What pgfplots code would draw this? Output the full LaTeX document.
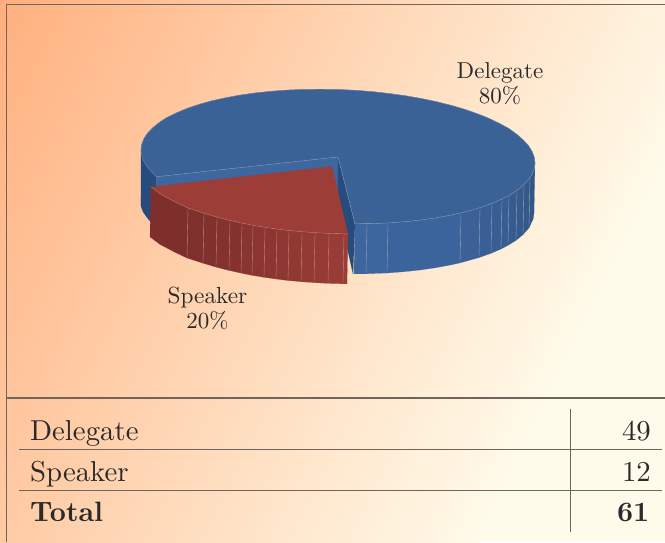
\documentclass[border=0pt]{standalone}
\usepackage{fontspec}
\setmainfont{lmroman10-regular.otf}[BoldFont=lmroman10-bold.otf]
\usepackage{pgfplots}
\pgfplotsset{compat=1.18}
\definecolor{bgA}{HTML}{FFB07E}
\definecolor{bgB}{HTML}{FFFBEA}
\definecolor{frameC}{HTML}{6E665C}
\definecolor{txt}{HTML}{2A2A2A}
\definecolor{blueTop}{HTML}{3A6296}
\definecolor{blueIn}{HTML}{3F679F}
\definecolor{blueDark}{HTML}{274B7D}
\definecolor{blueRim}{HTML}{8A9DBB}
\definecolor{blueA}{HTML}{345687}
\definecolor{blueB}{HTML}{3D659E}
\definecolor{redTop}{HTML}{9C3D37}
\definecolor{redA}{HTML}{7E2F2B}
\definecolor{redB}{HTML}{9B3C37}
\definecolor{redRim}{HTML}{B9807A}
\newcommand{\seg}[2]{\addplot[fill={#1},draw={#1},line width=0.1pt] coordinates {#2} --cycle;}
\newcommand{\rimb}[1]{\addplot[blueRim,line width=0.35pt] coordinates {#1};}
\newcommand{\rimr}[1]{\addplot[redRim,line width=0.35pt] coordinates {#1};}
\newcommand{\fr}[1]{\addplot[frameC,line width=1.2pt] coordinates {#1};}
\begin{document}
\begin{tikzpicture}
\useasboundingbox (0,0) rectangle (665pt,542pt);
\begin{scope}
\clip (0,0) rectangle (665pt,542pt);
\fill[bgB] (0,0) rectangle (665pt,542pt);
\begin{scope}[transform canvas={shift={(0pt,542pt)},rotate=-26.565}]
\shade[left color=bgA,right color=bgB] (0pt,-500pt) rectangle (671pt,320pt);
\end{scope}
\end{scope}
\begin{axis}[
  at={(0,0)},anchor=south west,scale only axis,width=665pt,height=542pt,
  xmin=0,xmax=665,ymin=0,ymax=542,y dir=reverse,hide axis,clip=false]
% frame and table rules
\fr{(6.5,542)(6.5,4.5)(665,4.5)}
\fr{(6.5,398)(665,398)}
\fr{(19,449.5)(661.5,449.5)}
\fr{(19,490.7)(661.5,490.7)}
\fr{(570.5,408.5)(570.5,531.5)}
% left outer wall
\seg{blueDark}{(141,150)(141,195)(140.8,205.8)(143,211.7)(147,217.5)(152,223.3)(155.7,226.7)(156.7,176.7)(153,173.3)(147.7,167.5)(144,161.7)(141.8,155.8)}
% right outer wall facets
\seg{blueB}{(355,223.8)(367,223.8)(366,273.8)(354,273.8)}
\seg{blueB}{(367,223.8)(388,223)(387,273)(366,273.8)}
\seg{blueB!92!blueA}{(388,223)(405,221.7)(421.3,220)(436.5,217.75)(451,215.1)(461,212.9)(460,262.9)(450,265.1)(435.5,267.75)(420.3,270)(404,271.7)(387,273)}
\seg{blueB!75!blueA}{(461,212.9)(480,207.6)(479,257.6)(460,262.9)}
\seg{blueB!62!blueA}{(480,207.6)(492,203.3)(491,253.3)(479,257.6)}
\seg{blueB!52!blueA}{(492,203.3)(502,199)(501,249)(491,253.3)}
\seg{blueB!44!blueA}{(502,199)(509,195.3)(508,245.3)(501,249)}
\seg{blueB!36!blueA}{(509,195.3)(517,190.4)(516,240.4)(508,245.3)}
\seg{blueB!26!blueA}{(517,190.4)(524,184.6)(523,234.6)(516,240.4)}
\seg{blueB!14!blueA}{(524,184.6)(530,177.8)(529,227.8)(523,234.6)}
\seg{blueA}{(530,177.8)(534.2,168.8)(535,163)(534,213)(533.2,218.8)(529,227.8)}
\rimb{(367,223.8)(366,273.8)}
\rimb{(388,223)(387,273)}
\rimb{(461,212.9)(460,262.9)}
\rimb{(480,207.6)(479,257.6)}
\rimb{(492,203.3)(491,253.3)}
\rimb{(502,199)(501,249)}
\rimb{(509,195.3)(508,245.3)}
\rimb{(517,190.4)(516,240.4)}
\rimb{(524,184.6)(523,234.6)}
\rimb{(530,177.8)(529,227.8)}
% inner faces
\seg{blueIn}{(156.7,176.7)(338,157)(338,207)(155.7,226.7)}
\seg{blueDark}{(338,157)(355,223.8)(353,274)(338,207)}
% top of the large slice
\seg{blueTop}{(338,157)(355,223.8)(372,223.6)(389,222.9)(405,221.7)(421.3,220)(436.5,217.75)(451,215.1)(465,212)(477.3,208.5)(489,204.6)(499.4,200.2)(509,195.6)(516.5,190.7)(523,185.5)(528.3,180.1)(532,174.5)(534.2,168.8)(535,163)(534.2,157.1)(532,151.3)(528.3,145.4)(523,139.7)(516.5,134.1)(509,128.6)(499.4,123.4)(489,118.4)(477.3,113.7)(465,109.4)(451,105.3)(436.5,101.7)(421.3,98.5)(405,95.7)(389,93.5)(372,91.6)(355.1,90.3)(338,89.5)(320.9,89.2)(304,89.4)(287,90.1)(271,91.3)(254.7,93)(239.5,95.2)(225,97.9)(211,101)(198.7,104.5)(187,108.4)(176.6,112.8)(167,117.4)(159.5,122.3)(153,127.5)(147.7,132.9)(144,138.5)(141.8,144.2)(141,150)(141.8,155.8)(144,161.7)(147.7,167.5)(153,173.3)(156.7,176.7)}
\rimb{(156.7,176.7)(338,157)(355,223.8)}
\rimb{(355,223.8)(372,223.6)(389,222.9)(405,221.7)(421.3,220)(436.5,217.75)(451,215.1)(465,212)(477.3,208.5)(489,204.6)(499.4,200.2)(509,195.6)(516.5,190.7)(523,185.5)(528.3,180.1)(532,174.5)(534.2,168.8)(535,163)}
\addplot[blueRim!60!blueTop,line width=0.4pt] coordinates {(535,163)(534.2,157.1)(532,151.3)(528.3,145.4)(523,139.7)(516.5,134.1)(509,128.6)(499.4,123.4)(489,118.4)(477.3,113.7)(465,109.4)(451,105.3)(436.5,101.7)(421.3,98.5)(405,95.7)(389,93.5)(372,91.6)(355.1,90.3)(338,89.5)(320.9,89.2)(304,89.4)(287,90.1)(271,91.3)(254.7,93)(239.5,95.2)(225,97.9)(211,101)(198.7,104.5)(187,108.4)(176.6,112.8)(167,117.4)(159.5,122.3)(153,127.5)(147.7,132.9)(144,138.5)(141.8,144.2)(141,150)(141.8,155.8)(144,161.7)(147.7,167.5)(153,173.3)(156.7,176.7)};
% red wall facets
\seg{redA}{(151,186.9)(161,194.4)(175,201.8)(188,208)(187,258)(174,251.8)(160,244.4)(150,236.9)}
\seg{redB!5!redA}{(188,208)(204,213.2)(203,263.2)(187,258)}
\seg{redB!12!redA}{(204,213.2)(217,217.1)(216,267.1)(203,263.2)}
\seg{redB!20!redA}{(217,217.1)(230,220.4)(229,270.4)(216,267.1)}
\seg{redB!28!redA}{(230,220.4)(242,223.1)(241,273.1)(229,270.4)}
\seg{redB!36!redA}{(242,223.1)(253,225.3)(252,275.3)(241,273.1)}
\seg{redB!44!redA}{(253,225.3)(265,227.3)(264,277.3)(252,275.3)}
\seg{redB!52!redA}{(265,227.3)(277,229)(276,279)(264,277.3)}
\seg{redB!60!redA}{(277,229)(289,230.5)(288,280.5)(276,279)}
\seg{redB!68!redA}{(289,230.5)(302,231.7)(301,281.7)(288,280.5)}
\seg{redB!76!redA}{(302,231.7)(315,232.6)(314,282.6)(301,281.7)}
\seg{redB!84!redA}{(315,232.6)(329,233.4)(328,283.4)(314,282.6)}
\seg{redB!92!redA}{(329,233.4)(344,233.8)(343,283.8)(328,283.4)}
\seg{redB}{(344,233.8)(348,234)(347,284)(343,283.8)}
\rimr{(188,208)(187,258)}
\rimr{(204,213.2)(203,263.2)}
\rimr{(217,217.1)(216,267.1)}
\rimr{(230,220.4)(229,270.4)}
\rimr{(242,223.1)(241,273.1)}
\rimr{(253,225.3)(252,275.3)}
\rimr{(265,227.3)(264,277.3)}
\rimr{(277,229)(276,279)}
\rimr{(289,230.5)(288,280.5)}
\rimr{(302,231.7)(301,281.7)}
\rimr{(315,232.6)(314,282.6)}
\rimr{(329,233.4)(328,283.4)}
\rimr{(344,233.8)(343,283.8)}
% red top
\seg{redTop}{(332,166.5)(348,234)(344,233.8)(329,233.4)(315,232.6)(302,231.7)(289,230.5)(277,229)(265,227.3)(253,225.3)(242,223.1)(230,220.4)(217,217.1)(204,213.2)(188,208)(175,201.8)(161,194.4)(151,186.9)}
\rimr{(151,186.9)(161,194.4)(175,201.8)(188,208)(204,213.2)(217,217.1)(230,220.4)(242,223.1)(253,225.3)(265,227.3)(277,229)(289,230.5)(302,231.7)(315,232.6)(329,233.4)(344,233.8)(348,234)}
% labels
\node[txt,font=\fontsize{23}{26}\selectfont,anchor=base] at (axis cs:500,78) {Delegate};
\node[txt,font=\fontsize{23}{26}\selectfont,anchor=base] at (axis cs:500,103) {80\%};
\node[txt,font=\fontsize{23.3}{26}\selectfont,anchor=base] at (axis cs:207.5,303) {Speaker};
\node[txt,font=\fontsize{23}{26}\selectfont,anchor=base] at (axis cs:207.5,328) {20\%};
% table
\node[txt,font=\fontsize{28.8}{32}\selectfont,anchor=base west,inner sep=0pt] at (axis cs:30,440) {Delegate};
\node[txt,font=\fontsize{28.8}{32}\selectfont,anchor=base west,inner sep=0pt] at (axis cs:30,481) {Speaker};
\node[txt,font=\fontsize{28}{32}\selectfont\bfseries,anchor=base west,inner sep=0pt] at (axis cs:30,521) {Total};
\node[txt,font=\fontsize{28.8}{32}\selectfont,anchor=base east,inner sep=0pt] at (axis cs:651,440) {49};
\node[txt,font=\fontsize{28.8}{32}\selectfont,anchor=base east,inner sep=0pt] at (axis cs:651,481) {12};
\node[txt,font=\fontsize{28}{32}\selectfont\bfseries,anchor=base east,inner sep=0pt] at (axis cs:649.5,521) {61};
\end{axis}
\end{tikzpicture}
\end{document}
